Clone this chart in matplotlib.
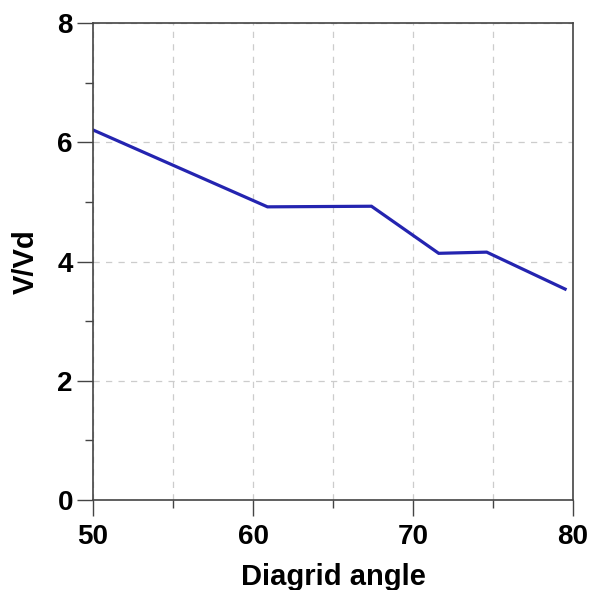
import matplotlib
matplotlib.use("Agg")
import matplotlib.pyplot as plt
from matplotlib.ticker import MultipleLocator

angle = [50, 60.9, 67.4, 71.6, 74.6, 79.5]
v_vd = [6.21, 4.92, 4.93, 4.14, 4.16, 3.54]

plt.rcParams['font.family'] = ['Liberation Sans', 'DejaVu Sans']

fig = plt.figure(figsize=(5.89, 5.90), dpi=100)
ax = fig.add_axes([0.158, 0.1525, 0.815, 0.808])

ax.plot(angle, v_vd, color='#2424b0', lw=2.3, solid_joinstyle='miter')

ax.set_xlim(50, 80)
ax.set_ylim(0, 8)
ax.xaxis.set_major_locator(MultipleLocator(10))
ax.xaxis.set_minor_locator(MultipleLocator(5))
ax.yaxis.set_major_locator(MultipleLocator(2))
ax.yaxis.set_minor_locator(MultipleLocator(1))

ax.grid(True, which='both', axis='x', ls=(0, (5, 5)), color='#cccccc', lw=0.9)
ax.grid(True, which='major', axis='y', ls=(0, (5, 5)), color='#cccccc', lw=0.9)
ax.set_axisbelow(True)

ax.tick_params(which='major', length=11.5, width=1.0, direction='out', color='#444444',
               labelsize=20)
ax.tick_params(axis='x', which='major', pad=6)
ax.tick_params(axis='y', which='major', pad=3)
ax.tick_params(which='minor', length=6, width=1.0, direction='out', color='#444444')
for lab in ax.get_xticklabels() + ax.get_yticklabels():
    lab.set_fontweight('bold')

for s in ax.spines.values():
    s.set_color('#444444')
    s.set_linewidth(1.2)

ax.set_xlabel('Diagrid angle', fontsize=21, fontweight='bold', labelpad=9)
ax.set_ylabel('V/Vd', fontsize=21, fontweight='bold', labelpad=13)

fig.savefig('out.png', dpi=100)
